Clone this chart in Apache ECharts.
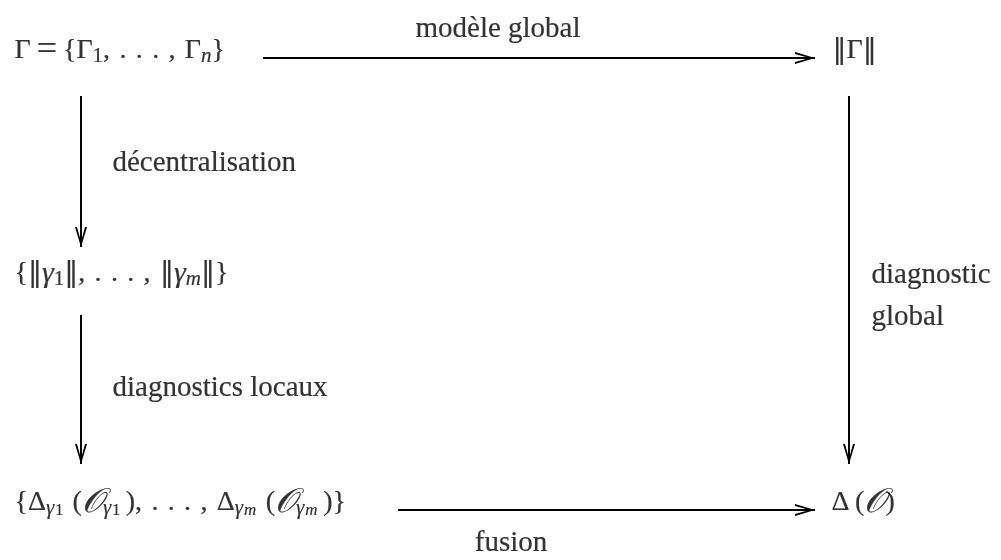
<!DOCTYPE html>
<html>
<head>
<meta charset="utf-8">
<script src="https://cdn.jsdelivr.net/npm/echarts@6/dist/echarts.min.js"></script>
<style>html,body{margin:0;padding:0;background:#fff}#c{width:1001px;height:560px}</style>
</head>
<body>
<div id="c"></div>
<script>
// Diagram nodes (rich-text formulas) and their anchor points (left edge, vertical centre)
const nodeTexts = [
  'Γ{eq|=}{Γ{s|1},\u2004.\u2004.\u2004.\u2004,\u2004Γ{si|n}}',
  '{b|‖}Γ{b|‖}',
  '{{b|‖}{i|γ}{s|1}{b|‖},\u2004.\u2004.\u2004.\u2004,\u2004{b|‖}{i|γ}{si|m}{b|‖}}',
  '{Δ{si|γ}{ss|1}\u2004({c|𝒪}{si|γ}{ss|1}\u2009),\u2004.\u2004.\u2004.\u2004,\u2004Δ{si|γ}{ssi|m}\u2004({c|𝒪}{si|γ}{ssi|m}\u2009)}',
  'Δ\u2009({c|𝒪})'
];
const nodeX = [14, 832, 14, 14, 831];
const nodeY = [51, 51, 274, 503, 503];

// Arrows: start points and tip points
const arrowX1 = [263, 81, 81, 849, 398];
const arrowY1 = [58, 96, 315, 96, 510];
const arrowX2 = [815, 81, 81, 849, 815];
const arrowY2 = [58, 247, 464, 464, 510];

// Arrow captions
const captionTexts = ['modèle global', 'décentralisation', 'diagnostics locaux', 'diagnostic\nglobal', 'fusion'];
const captionX = [498, 112, 112, 871, 511];
const captionY = [29, 163, 388, 296, 543];
const captionAlign = ['center', 'left', 'left', 'left', 'center'];

const SERIF = '"Liberation Serif", "DejaVu Serif", serif';
const HEAD_W = 12, HEAD_L = 22; // arrow head size
const headPath = 'path://M6,0 L0,20 L2,20 L6,5.5 L10,20 L12,20 Z M5,0 L7,0 L7,22 L5,22 Z';

const shafts = arrowX1.map((x, i) => ({ coords: [[x, arrowY1[i]], [arrowX2[i], arrowY2[i]]] }));
const heads = arrowX1.map((x, i) => {
  const dx = arrowX2[i] - x, dy = arrowY2[i] - arrowY1[i];
  const L = Math.hypot(dx, dy);
  return {
    value: [arrowX2[i] - dx / L * HEAD_L / 2, arrowY2[i] - dy / L * HEAD_L / 2],
    symbolRotate: Math.atan2(-dx, -dy) * 180 / Math.PI
  };
});

const BORDER = { textBorderColor: '#000', textBorderWidth: 0.2 };
const mathRich = {
  eq: { fontFamily: SERIF, fontSize: 36, lineHeight: 32, padding: [0, 6, 0, 6], color: '#000' },
  b: Object.assign({ fontFamily: '"DejaVu Serif", serif', fontSize: 28, color: '#000' }, BORDER),
  i: Object.assign({ fontFamily: SERIF, fontSize: 30, fontStyle: 'italic', color: '#000' }, BORDER),
  c: Object.assign({ fontFamily: SERIF, fontSize: 34, fontStyle: 'italic', color: '#000' }, BORDER),
  s: Object.assign({ fontFamily: SERIF, fontSize: 21, lineHeight: 17, verticalAlign: 'bottom', color: '#000' }, BORDER),
  si: Object.assign({ fontFamily: SERIF, fontSize: 21, lineHeight: 17, fontStyle: 'italic', verticalAlign: 'bottom', color: '#000' }, BORDER),
  ss: Object.assign({ fontFamily: SERIF, fontSize: 16, lineHeight: 5, verticalAlign: 'bottom', padding: [0, 0, 0, 1], color: '#000' }, BORDER),
  ssi: Object.assign({ fontFamily: SERIF, fontSize: 17, lineHeight: 5, fontStyle: 'italic', verticalAlign: 'bottom', padding: [0, 0, 0, 1], color: '#000' }, BORDER)
};

const chart = echarts.init(document.getElementById('c'), null, { renderer: 'canvas' });
chart.setOption({
  animation: false,
  backgroundColor: '#fff',
  grid: { left: 0, right: 0, top: 0, bottom: 0 },
  xAxis: { type: 'value', min: 0, max: 1001, show: false },
  yAxis: { type: 'value', min: 0, max: 560, inverse: true, show: false },
  series: [
    {
      type: 'lines',
      coordinateSystem: 'cartesian2d',
      silent: true,
      symbol: 'none',
      lineStyle: { color: '#000', width: 2, opacity: 1, type: 'solid' },
      data: shafts,
      z: 2
    },
    {
      type: 'scatter',
      silent: true,
      symbol: headPath,
      symbolSize: [HEAD_W, HEAD_L],
      symbolKeepAspect: false,
      itemStyle: { color: '#000', opacity: 1 },
      data: heads,
      z: 2
    },
    {
      type: 'scatter',
      silent: true,
      symbolSize: 1,
      itemStyle: { color: 'rgba(0,0,0,0)' },
      data: nodeTexts.map((t, i) => ({ value: [nodeX[i], nodeY[i]], name: t })),
      label: Object.assign({
        show: true,
        position: 'right',
        distance: 0,
        formatter: p => p.name,
        fontFamily: SERIF,
        fontSize: 28,
        lineHeight: 32,
        color: '#000',
        rich: mathRich
      }, BORDER),
      z: 3
    },
    {
      type: 'scatter',
      silent: true,
      symbolSize: 1,
      itemStyle: { color: 'rgba(0,0,0,0)' },
      data: captionTexts.map((t, i) => ({
        value: [captionX[i], captionY[i]],
        name: t,
        label: captionAlign[i] === 'center'
          ? { position: 'inside', align: 'center', verticalAlign: 'middle' }
          : { position: 'right', distance: 0 }
      })),
      label: Object.assign({
        show: true,
        formatter: p => p.name,
        fontFamily: SERIF,
        fontSize: 29,
        lineHeight: 42,
        color: '#000'
      }, BORDER),
      z: 3
    }
  ]
});
</script>
</body>
</html>
